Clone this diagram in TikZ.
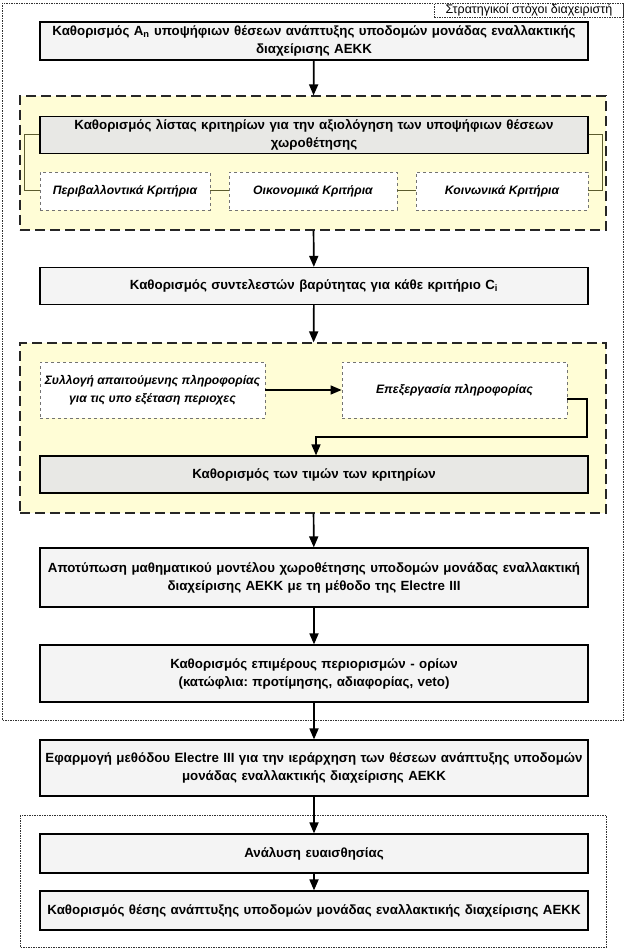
\documentclass[tikz,border=0pt]{standalone}
\usepackage{fontspec}
\setmainfont{Liberation Sans}
\usetikzlibrary{arrows.meta,positioning}
\frenchspacing

\definecolor{boxgray}{RGB}{244,244,244}
\definecolor{listgray}{RGB}{232,232,229}
\definecolor{paleyellow}{RGB}{255,253,214}
\definecolor{olive}{RGB}{92,92,46}

\tikzset{
  stage/.style={draw,line width=1.2pt,fill=boxgray,minimum width=548pt,align=center,
    inner xsep=0pt,text width=548pt,font=\fontsize{13.3}{18}\selectfont\bfseries},
  inner/.style={stage,fill=listgray},
  sub/.style={draw=gray!90!black,dashed,line width=0.8pt,fill=white,align=center,
    font=\fontsize{12.2}{18}\selectfont\bfseries\itshape},
  group/.style={draw=black!85,line width=1.2pt,dash pattern=on 10pt off 5pt,fill=paleyellow},
  frame/.style={draw=black!80,line width=0.8pt,dash pattern=on 1.5pt off 1pt},
  flow/.style={line width=1.7pt,-{Triangle[length=11pt,width=9pt]}},
  link/.style={olive,line width=1pt}
}

\begin{document}
\begin{tikzpicture}[x=1pt,y=-1pt]
  \useasboundingbox (0,0) rectangle (626,949);
  \draw[frame] (2,3) rectangle (623,720);
  \node[frame,fill=white,anchor=north west,minimum width=189pt,minimum height=14pt,inner sep=0pt,
    font=\fontsize{12.5}{12}\selectfont] (tag) at (434,3) {Στρατηγικοί στόχοι διαχειριστή};

  \node[stage,minimum height=38pt] (aim) at (314,41)
    {Καθορισμός A\textsubscript{n} υποψήφιων θέσεων ανάπτυξης υποδομών μονάδας εναλλακτικής\\διαχείρισης ΑΕΚΚ};

  \node[group,minimum width=586pt,minimum height=134pt] (grpA) at (313,163) {};
  \node[inner,minimum height=37pt] (list) at (314,135)
    {Καθορισμός λίστας κριτηρίων για την αξιολόγηση των υποψήφιων θέσεων\\χωροθέτησης};
  \node[sub,minimum width=170pt,minimum height=38pt] (env) at (125,191) {Περιβαλλοντικά Κριτήρια};
  \node[sub,minimum width=168pt,minimum height=38pt] (eco) at (313,191) {Οικονομικά Κριτήρια};
  \node[sub,minimum width=172pt,minimum height=38pt] (soc) at (502,191) {Κοινωνικά Κριτήρια};
  \draw[link] (list.west) -- ++(-15,0) |- (env.west);
  \draw[link] (list.east) -- ++(14,0) |- (soc.east);
  \draw[link] (env) -- (eco);
  \draw[link] (eco) -- (soc);

  \node[stage,minimum height=37pt] (weights) at (314,286)
    {Καθορισμός συντελεστών βαρύτητας για κάθε κριτήριο C\textsubscript{i}};

  \node[group,minimum width=586pt,minimum height=170pt] (grpB) at (313,428) {};
  \node[sub,minimum width=225pt,minimum height=56pt] (collect) at (152.5,390)
    {Συλλογή απαιτούμενης πληροφορίας\\για τις υπο εξέταση περιοχες};
  \node[sub,minimum width=225pt,minimum height=56pt] (process) at (454.5,390) {Επεξεργασία πληροφορίας};
  \node[inner,minimum height=37pt] (values) at (314,474.5) {Καθορισμός των τιμών των κριτηρίων};
  \coordinate (turn) at (587,437);
  \draw[flow,line width=1.4pt] (collect) -- (process);
  \draw[flow,line width=1.4pt] ([yshift=-9pt]process.east) -| (turn) -| ([xshift=2pt]values.north);

  \node[stage,minimum height=59pt] (model) at (314,577.5)
    {Αποτύπωση μαθηματικού μοντέλου χωροθέτησης υποδομών μονάδας εναλλακτική\\διαχείρισης ΑΕΚΚ με τη μέθοδο της Electre III};
  \node[stage,minimum height=57pt] (thresh) at (314,673.5)
    {Καθορισμός επιμέρους περιορισμών - ορίων\\(κατώφλια: προτίμησης, αδιαφορίας, veto)};
  \node[stage,minimum height=56pt] (rank) at (314,768)
    {Εφαρμογή μεθόδου Electre III για την ιεράρχηση των θέσεων ανάπτυξης υποδομών\\μονάδας εναλλακτικής διαχείρισης ΑΕΚΚ};

  \draw[frame] (20,815) rectangle (606,947);
  \node[stage,minimum height=39pt] (sens) at (314,853.5) {Ανάλυση ευαισθησίας};
  \node[stage,minimum height=39pt] (site) at (314,910.5)
    {Καθορισμός θέσης ανάπτυξης υποδομών μονάδας εναλλακτικής διαχείρισης ΑΕΚΚ};

  \draw[flow] (aim) -- (grpA);
  \draw[flow] (grpA) -- (weights);
  \draw[flow] (weights) -- (grpB);
  \draw[flow] (grpB) -- (model);
  \draw[flow] (model) -- (thresh);
  \draw[flow] (thresh) -- (rank);
  \draw[flow] (rank) -- (sens);
  \draw[flow] (sens) -- (site);
\end{tikzpicture}
\end{document}
